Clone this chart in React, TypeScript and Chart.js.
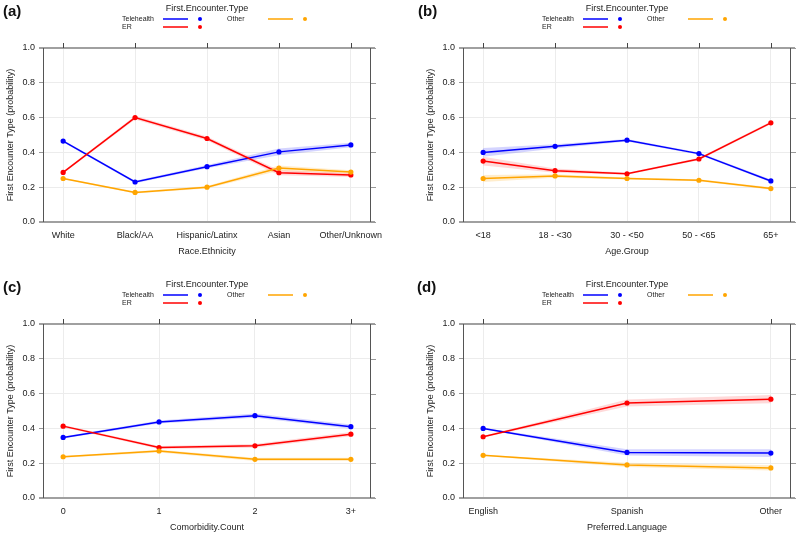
import React, { useEffect, useRef } from "react";
import { Chart, registerables } from "chart.js";

Chart.register(...registerables);

const FONT = '"Liberation Sans", Arial, Helvetica, sans-serif';
Chart.defaults.font.family = FONT;

// ---------- data ----------
const seriesNames = ["Telehealth", "ER", "Other"];
const seriesColors = ["#0000ff", "#ff0000", "#ffa500"];
const bandColors = ["rgba(0,0,255,0.17)", "rgba(255,0,0,0.15)", "rgba(255,165,0,0.2)"];
const yTicks = [0, 0.2, 0.4, 0.6, 0.8, 1.0];

// (a) Race.Ethnicity
const raceCategories = ["White", "Black/AA", "Hispanic/Latinx", "Asian", "Other/Unknown"];
const raceTelehealth = [0.465, 0.23, 0.318, 0.403, 0.443];
const raceTelehealthCI = [0.006, 0.007, 0.009, 0.02, 0.013];
const raceER = [0.285, 0.6, 0.48, 0.283, 0.27];
const raceERCI = [0.006, 0.011, 0.011, 0.015, 0.011];
const raceOther = [0.25, 0.17, 0.2, 0.31, 0.287];
const raceOtherCI = [0.005, 0.006, 0.007, 0.015, 0.01];

// (b) Age.Group
const ageCategories = ["<18", "18 - <30", "30 - <50", "50 - <65", "65+"];
const ageTelehealth = [0.4, 0.435, 0.47, 0.393, 0.236];
const ageTelehealthCI = [0.025, 0.012, 0.007, 0.007, 0.008];
const ageER = [0.35, 0.295, 0.277, 0.362, 0.57];
const ageERCI = [0.025, 0.012, 0.006, 0.007, 0.008];
const ageOther = [0.25, 0.265, 0.25, 0.24, 0.192];
const ageOtherCI = [0.02, 0.01, 0.006, 0.006, 0.007];

// (c) Comorbidity.Count
const comorbCategories = ["0", "1", "2", "3+"];
const comorbTelehealth = [0.348, 0.437, 0.473, 0.41];
const comorbTelehealthCI = [0.006, 0.009, 0.012, 0.012];
const comorbER = [0.413, 0.29, 0.3, 0.367];
const comorbERCI = [0.006, 0.009, 0.011, 0.012];
const comorbOther = [0.237, 0.27, 0.222, 0.222];
const comorbOtherCI = [0.005, 0.008, 0.009, 0.01];

// (d) Preferred.Language
const langCategories = ["English", "Spanish", "Other"];
const langTelehealth = [0.4, 0.262, 0.258];
const langTelehealthCI = [0.004, 0.018, 0.022];
const langER = [0.352, 0.546, 0.568];
const langERCI = [0.004, 0.02, 0.024];
const langOther = [0.245, 0.19, 0.173];
const langOtherCI = [0.004, 0.012, 0.015];

type PanelDef = {
  label: string;
  xTitle: string;
  categories: string[];
  values: number[][];
  ci: number[][];
  left: number;
  top: number;
  shift: number;
  labelX: number;
};

const panels: PanelDef[] = [
  { label: "(a)", xTitle: "Race.Ethnicity", categories: raceCategories, values: [raceTelehealth, raceER, raceOther], ci: [raceTelehealthCI, raceERCI, raceOtherCI], left: 0, top: 0, shift: 0, labelX: 3 },
  { label: "(b)", xTitle: "Age.Group", categories: ageCategories, values: [ageTelehealth, ageER, ageOther], ci: [ageTelehealthCI, ageERCI, ageOtherCI], left: 400, top: 0, shift: 20, labelX: 18 },
  { label: "(c)", xTitle: "Comorbidity.Count", categories: comorbCategories, values: [comorbTelehealth, comorbER, comorbOther], ci: [comorbTelehealthCI, comorbERCI, comorbOtherCI], left: 0, top: 276, shift: 0, labelX: 3 },
  { label: "(d)", xTitle: "Preferred.Language", categories: langCategories, values: [langTelehealth, langER, langOther], ci: [langTelehealthCI, langERCI, langOtherCI], left: 400, top: 276, shift: 20, labelX: 17 },
];

const W = 400;
const H = 260;

const decorPlugin = {
  id: "decor",
  afterDraw(chart: any) {
    const { ctx, chartArea: a, scales } = chart;
    const opts = chart.options.plugins.decor;
    const xs = scales.x;
    const ys = scales.y;
    ctx.save();
    // frame
    ctx.strokeStyle = "#a0a0a0";
    ctx.lineWidth = 2;
    ctx.beginPath();
    ctx.moveTo(a.left - 4, a.top);
    ctx.lineTo(a.right + 4, a.top);
    ctx.moveTo(a.left - 4, a.bottom);
    ctx.lineTo(a.right + 4, a.bottom);
    ctx.stroke();
    ctx.strokeStyle = "#555";
    ctx.lineWidth = 1;
    ctx.beginPath();
    ctx.moveTo(a.left + 0.5, a.top);
    ctx.lineTo(a.left + 0.5, a.bottom);
    ctx.moveTo(a.right - 0.5, a.top);
    ctx.lineTo(a.right - 0.5, a.bottom);
    ctx.stroke();
    // top ticks
    ctx.strokeStyle = "#444";
    ctx.beginPath();
    opts.categories.forEach((_: string, i: number) => {
      const px = Math.round(xs.getPixelForValue(i)) + 0.5;
      ctx.moveTo(px, a.top - 5);
      ctx.lineTo(px, a.top);
    });
    ctx.stroke();
    // right ticks
    ctx.strokeStyle = "#999";
    ctx.beginPath();
    yTicks.forEach((v) => {
      const py = Math.round(ys.getPixelForValue(v)) + 0.5;
      ctx.moveTo(a.right, py);
      ctx.lineTo(a.right + 5, py);
    });
    ctx.stroke();

    // legend
    const cx = (a.left + a.right) / 2;
    ctx.fillStyle = "#222";
    ctx.textBaseline = "middle";
    ctx.textAlign = "center";
    ctx.font = `9px ${FONT}`;
    ctx.fillText("First.Encounter.Type", cx, 8.5);
    ctx.font = `7px ${FONT}`;
    ctx.textAlign = "left";
    const entries = [
      { name: seriesNames[0], color: seriesColors[0], dx: -85, y: 19 },
      { name: seriesNames[1], color: seriesColors[1], dx: -85, y: 27 },
      { name: seriesNames[2], color: seriesColors[2], dx: 20, y: 19 },
    ];
    entries.forEach((e) => {
      ctx.fillStyle = "#222";
      ctx.fillText(e.name, cx + e.dx, e.y);
      ctx.strokeStyle = e.color;
      ctx.lineWidth = 1.5;
      ctx.beginPath();
      ctx.moveTo(cx + e.dx + 41, e.y);
      ctx.lineTo(cx + e.dx + 66, e.y);
      ctx.stroke();
      ctx.fillStyle = e.color;
      ctx.beginPath();
      ctx.arc(cx + e.dx + 78, e.y, 2, 0, Math.PI * 2);
      ctx.fill();
    });

    // panel label
    ctx.fillStyle = "#111";
    ctx.font = `bold 15px ${FONT}`;
    ctx.textAlign = "left";
    ctx.fillText(opts.label, opts.labelX, 12);
    ctx.restore();
  },
};

function Panel(p: PanelDef) {
  const ref = useRef<HTMLCanvasElement>(null);
  useEffect(() => {
    if (!ref.current) return;
    const n = p.categories.length;
    const pad = (n - 1) * 0.07;
    const datasets: any[] = [];
    p.values.forEach((vals, k) => {
      datasets.push({
        label: seriesNames[k] + " lower",
        data: vals.map((v, i) => ({ x: i, y: v - p.ci[k][i] })),
        borderColor: "transparent",
        borderWidth: 0,
        pointRadius: 0,
        fill: false,
        order: 5,
      });
      datasets.push({
        label: seriesNames[k] + " upper",
        data: vals.map((v, i) => ({ x: i, y: v + p.ci[k][i] })),
        borderColor: "transparent",
        borderWidth: 0,
        pointRadius: 0,
        backgroundColor: bandColors[k],
        fill: "-1",
        order: 5,
      });
    });
    p.values.forEach((vals, k) => {
      datasets.push({
        label: seriesNames[k],
        data: vals.map((v, i) => ({ x: i, y: v })),
        borderColor: seriesColors[k],
        backgroundColor: seriesColors[k],
        borderWidth: 1.5,
        pointRadius: 2.6,
        pointBorderWidth: 0,
        fill: false,
        order: 3 - k,
      });
    });
    const chart = new Chart(ref.current, {
      type: "line",
      data: { datasets },
      plugins: [decorPlugin],
      options: {
        animation: false,
        responsive: false,
        devicePixelRatio: 1,
        layout: { padding: { top: 48, left: p.shift, right: W - 371 - p.shift, bottom: 0 } },
        plugins: {
          legend: { display: false },
          tooltip: { enabled: false },
          decor: { label: p.label, labelX: p.labelX, categories: p.categories },
        } as any,
        scales: {
          x: {
            type: "linear",
            min: -pad,
            max: n - 1 + pad,
            afterBuildTicks: (s: any) => {
              s.ticks = p.categories.map((_, i) => ({ value: i }));
            },
            afterFit: (s: any) => {
              s.height = H - 222;
            },
            ticks: {
              callback: (v: any) => p.categories[Math.round(Number(v))] ?? "",
              color: "#222",
              font: { size: 9 },
              padding: 8,
              maxRotation: 0,
              autoSkip: false,
            },
            grid: { color: "#ececec", drawTicks: false },
            border: { display: false },
            title: { display: true, text: p.xTitle, color: "#222", font: { size: 9 }, padding: { top: 0, bottom: 3 } },
          },
          y: {
            min: 0,
            max: 1,
            afterBuildTicks: (s: any) => {
              s.ticks = yTicks.map((v) => ({ value: v }));
            },
            afterFit: (s: any) => {
              s.width = 43;
            },
            ticks: {
              callback: (v: any) => Number(v).toFixed(1),
              color: "#222",
              font: { size: 9 },
              padding: 4,
            },
            grid: { color: "#ececec", tickColor: "#999", tickLength: 4 },
            border: { display: false },
            title: {
              display: true,
              text: "First Encounter Type (probability)",
              color: "#222",
              font: { size: 9 },
              padding: { top: 5, bottom: 0 },
            },
          },
        },
      } as any,
    });
    return () => chart.destroy();
  }, []);
  return (
    <canvas
      ref={ref}
      width={W}
      height={H}
      style={{ position: "absolute", left: p.left, top: p.top, width: W, height: H, display: "block" }}
    />
  );
}

export default function App() {
  return (
    <div style={{ position: "absolute", left: 0, top: 0, width: 800, height: 536, background: "#fff" }}>
      {panels.map((p) => (
        <Panel key={p.label} {...p} />
      ))}
    </div>
  );
}
